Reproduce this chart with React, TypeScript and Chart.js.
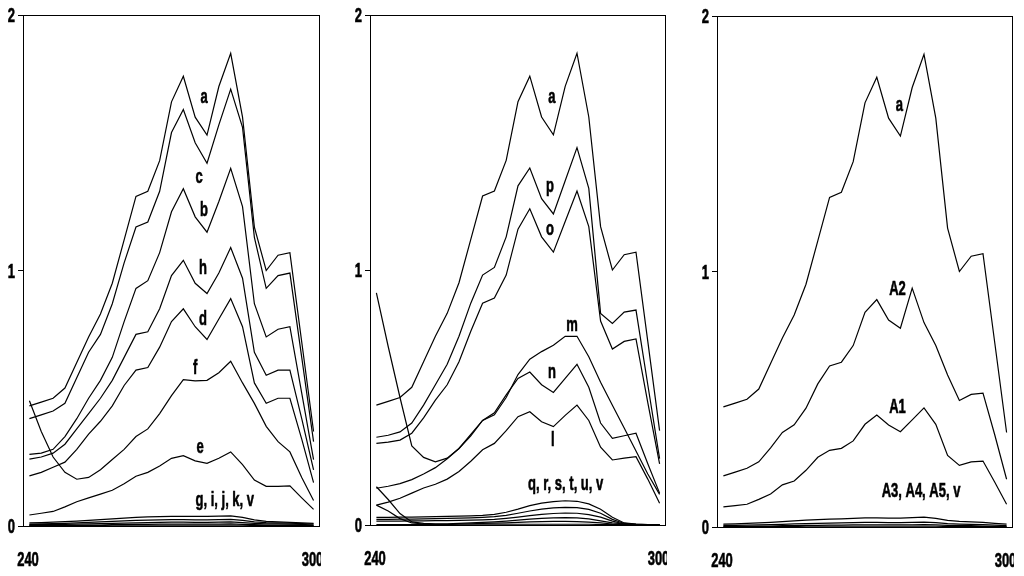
import React, { useEffect, useRef } from 'react';
import Chart from 'chart.js/auto';

// wavelength grid (nm) shared by every curve
const wavelengths = [241.3, 243.7, 246.1, 248.5, 250.9, 253.3, 255.7, 258.1, 260.5, 262.9, 265.3, 267.7, 270.1, 272.5, 274.9, 277.3, 279.7, 282.1, 284.5, 286.9, 289.3, 291.7, 294.1, 296.5, 298.9];

const xTickLabels = ['240', '300'];
const yTicks = [0, 1, 2];

// curve a appears in all three panels
const seriesA = [0.47, 0.485, 0.5, 0.54, 0.64, 0.74, 0.83, 0.95, 1.12, 1.29, 1.31, 1.43, 1.66, 1.76, 1.6, 1.53, 1.72, 1.85, 1.6, 1.17, 1.0, 1.06, 1.07, 0.72, 0.37];
const seriesV = [0.002, 0.002, 0.002, 0.002, 0.002, 0.002, 0.002, 0.003, 0.003, 0.003, 0.003, 0.003, 0.003, 0.003, 0.003, 0.003, 0.003, 0.003, 0.003, 0.002, 0.002, 0.002, 0.002, 0.002, 0.001];

// panel 1
const seriesC = [0.42, 0.435, 0.45, 0.48, 0.58, 0.68, 0.75, 0.87, 1.03, 1.17, 1.19, 1.31, 1.54, 1.63, 1.5, 1.42, 1.57, 1.71, 1.56, 1.13, 0.93, 0.98, 0.99, 0.66, 0.33];
const seriesB = [0.28, 0.285, 0.3, 0.35, 0.42, 0.5, 0.57, 0.66, 0.8, 0.93, 0.96, 1.07, 1.23, 1.32, 1.21, 1.15, 1.27, 1.4, 1.25, 0.87, 0.74, 0.77, 0.78, 0.52, 0.26];
const seriesH = [0.262, 0.27, 0.285, 0.32, 0.38, 0.44, 0.5, 0.57, 0.66, 0.75, 0.76, 0.85, 0.98, 1.04, 0.95, 0.91, 0.99, 1.09, 0.97, 0.68, 0.59, 0.61, 0.61, 0.42, 0.22];
const seriesD = [0.196, 0.21, 0.23, 0.25, 0.3, 0.36, 0.41, 0.47, 0.55, 0.61, 0.62, 0.7, 0.8, 0.85, 0.78, 0.73, 0.81, 0.89, 0.78, 0.56, 0.48, 0.5, 0.5, 0.34, 0.17];
const seriesF = [0.49, 0.37, 0.27, 0.21, 0.183, 0.19, 0.22, 0.26, 0.3, 0.35, 0.38, 0.44, 0.51, 0.573, 0.568, 0.57, 0.6, 0.645, 0.56, 0.48, 0.39, 0.33, 0.29, 0.19, 0.1];
const seriesE = [0.043, 0.05, 0.057, 0.075, 0.095, 0.11, 0.125, 0.14, 0.165, 0.195, 0.21, 0.235, 0.265, 0.275, 0.255, 0.245, 0.265, 0.29, 0.24, 0.18, 0.155, 0.155, 0.157, 0.11, 0.065];
const seriesG = [0.012, 0.013, 0.015, 0.017, 0.019, 0.022, 0.025, 0.028, 0.031, 0.034, 0.036, 0.037, 0.038, 0.038, 0.038, 0.038, 0.039, 0.04, 0.034, 0.024, 0.018, 0.016, 0.014, 0.012, 0.01];
const seriesI = [0.007, 0.008, 0.009, 0.01, 0.012, 0.014, 0.016, 0.018, 0.02, 0.022, 0.023, 0.024, 0.025, 0.025, 0.024, 0.024, 0.025, 0.026, 0.022, 0.016, 0.013, 0.012, 0.011, 0.009, 0.007];
const seriesJ = [0.005, 0.005, 0.006, 0.006, 0.007, 0.008, 0.009, 0.01, 0.011, 0.012, 0.013, 0.014, 0.015, 0.015, 0.014, 0.014, 0.015, 0.016, 0.013, 0.01, 0.008, 0.008, 0.007, 0.006, 0.004];
const seriesK = [0.002, 0.002, 0.003, 0.003, 0.003, 0.004, 0.004, 0.005, 0.005, 0.006, 0.006, 0.007, 0.007, 0.007, 0.007, 0.007, 0.007, 0.008, 0.006, 0.005, 0.004, 0.004, 0.004, 0.003, 0.002];

// panel 2
const seriesP = [0.344, 0.352, 0.365, 0.4, 0.47, 0.55, 0.63, 0.74, 0.87, 0.98, 1.01, 1.13, 1.33, 1.4, 1.28, 1.22, 1.35, 1.48, 1.32, 0.83, 0.79, 0.835, 0.843, 0.55, 0.26];
const seriesO = [0.32, 0.325, 0.333, 0.36, 0.42, 0.49, 0.55, 0.64, 0.76, 0.87, 0.89, 0.98, 1.16, 1.24, 1.13, 1.07, 1.19, 1.31, 1.17, 0.8, 0.69, 0.72, 0.73, 0.48, 0.24];
const seriesM = [0.91, 0.7, 0.5, 0.31, 0.265, 0.248, 0.262, 0.3, 0.355, 0.41, 0.432, 0.5, 0.59, 0.65, 0.68, 0.705, 0.74, 0.74, 0.66, 0.56, 0.47, 0.38, 0.29, 0.2, 0.12];
const seriesN = [0.144, 0.152, 0.162, 0.178, 0.2, 0.225, 0.26, 0.3, 0.35, 0.41, 0.44, 0.51, 0.575, 0.6, 0.55, 0.52, 0.575, 0.63, 0.54, 0.4, 0.34, 0.35, 0.36, 0.24, 0.125];
const seriesL = [0.078, 0.09, 0.105, 0.125, 0.145, 0.16, 0.18, 0.21, 0.25, 0.295, 0.32, 0.37, 0.425, 0.444, 0.405, 0.386, 0.43, 0.47, 0.41, 0.305, 0.255, 0.262, 0.268, 0.18, 0.085];
const seriesQ = [0.03, 0.03, 0.031, 0.031, 0.032, 0.033, 0.034, 0.035, 0.036, 0.038, 0.042, 0.05, 0.062, 0.076, 0.086, 0.092, 0.095, 0.093, 0.083, 0.062, 0.03, 0.008, 0.004, 0.002, 0.001];
const seriesR = [0.022, 0.022, 0.023, 0.023, 0.024, 0.025, 0.026, 0.027, 0.028, 0.03, 0.033, 0.038, 0.046, 0.055, 0.062, 0.067, 0.069, 0.068, 0.061, 0.046, 0.022, 0.006, 0.003, 0.002, 0.001];
const seriesS = [0.015, 0.015, 0.015, 0.016, 0.016, 0.017, 0.017, 0.018, 0.019, 0.02, 0.022, 0.026, 0.031, 0.037, 0.042, 0.045, 0.047, 0.046, 0.041, 0.031, 0.015, 0.004, 0.002, 0.001, 0.001];
const seriesT = [0.15, 0.1, 0.045, 0.012, 0.006, 0.005, 0.005, 0.006, 0.008, 0.01, 0.012, 0.015, 0.019, 0.023, 0.026, 0.028, 0.029, 0.028, 0.024, 0.016, 0.008, 0.004, 0.003, 0.002, 0.001];
const seriesU = [0.078, 0.055, 0.025, 0.008, 0.004, 0.003, 0.003, 0.004, 0.005, 0.006, 0.007, 0.008, 0.01, 0.012, 0.013, 0.014, 0.014, 0.013, 0.011, 0.008, 0.004, 0.002, 0.002, 0.001, 0.001];

// panel 3
const seriesA2 = [0.2, 0.215, 0.23, 0.255, 0.31, 0.37, 0.4, 0.465, 0.56, 0.63, 0.645, 0.71, 0.84, 0.89, 0.81, 0.778, 0.935, 0.8, 0.71, 0.595, 0.495, 0.519, 0.524, 0.36, 0.187];
const seriesA1 = [0.079, 0.084, 0.089, 0.108, 0.129, 0.165, 0.18, 0.222, 0.273, 0.3, 0.308, 0.337, 0.402, 0.438, 0.399, 0.373, 0.419, 0.466, 0.402, 0.28, 0.241, 0.255, 0.258, 0.175, 0.089];
const seriesA3 = [0.011, 0.012, 0.014, 0.016, 0.018, 0.021, 0.024, 0.027, 0.029, 0.031, 0.032, 0.034, 0.036, 0.036, 0.035, 0.035, 0.037, 0.039, 0.034, 0.026, 0.022, 0.02, 0.018, 0.014, 0.011];
const seriesA4 = [0.006, 0.006, 0.007, 0.008, 0.009, 0.01, 0.012, 0.013, 0.014, 0.015, 0.016, 0.017, 0.018, 0.018, 0.017, 0.017, 0.018, 0.019, 0.017, 0.013, 0.011, 0.01, 0.009, 0.007, 0.005];
const seriesA5 = [0.003, 0.003, 0.003, 0.004, 0.004, 0.005, 0.005, 0.006, 0.006, 0.007, 0.007, 0.008, 0.008, 0.008, 0.008, 0.008, 0.008, 0.009, 0.008, 0.006, 0.005, 0.005, 0.004, 0.003, 0.002];

// bold Arial-like face, squeezed sideways to look like the narrow original
const FONT = "bold 20px 'Liberation Sans', Arial, sans-serif";
const SQUEEZE = 0.65;

type CurveLabel = { text: string; x: number; y: number };
type Panel = {
  left: number;
  width: number;
  yWidth: number;
  top: number;
  bottom: number;
  series: number[][];
  labels: CurveLabel[];
};

const panels: Panel[] = [
  {
    left: 0, width: 321, yWidth: 23, top: 15, bottom: 50,
    series: [seriesV, seriesK, seriesJ, seriesI, seriesG, seriesE, seriesF, seriesD, seriesH, seriesB, seriesC, seriesA],
    labels: [
      { text: 'a', x: 276.7, y: 1.68 },
      { text: 'c', x: 275.7, y: 1.365 },
      { text: 'b', x: 276.7, y: 1.235 },
      { text: 'h', x: 276.5, y: 1.01 },
      { text: 'd', x: 276.5, y: 0.81 },
      { text: 'f', x: 274.9, y: 0.62 },
      { text: 'e', x: 275.9, y: 0.31 },
      { text: 'g, i, j, k, v', x: 280.9, y: 0.1 },
    ],
  },
  {
    left: 345, width: 322, yWidth: 25, top: 15, bottom: 51,
    series: [seriesV, seriesU, seriesT, seriesS, seriesR, seriesQ, seriesL, seriesN, seriesM, seriesO, seriesP, seriesA],
    labels: [
      { text: 'a', x: 277.0, y: 1.68 },
      { text: 'p', x: 276.6, y: 1.33 },
      { text: 'o', x: 276.6, y: 1.16 },
      { text: 'm', x: 281.1, y: 0.785 },
      { text: 'n', x: 277.0, y: 0.6 },
      { text: 'l', x: 277.2, y: 0.335 },
      { text: 'q, r, s, t, u, v', x: 279.8, y: 0.16 },
    ],
  },
  {
    left: 690, width: 324, yWidth: 27, top: 16, bottom: 49,
    series: [seriesV, seriesA5, seriesA4, seriesA3, seriesA1, seriesA2, seriesA],
    labels: [
      { text: 'a', x: 277.1, y: 1.65 },
      { text: 'A2', x: 276.7, y: 0.93 },
      { text: 'A1', x: 276.7, y: 0.47 },
      { text: 'A3, A4, A5, v', x: 281.5, y: 0.14 },
    ],
  },
];

const drawText = (ctx: CanvasRenderingContext2D, text: string, x: number, y: number, align: CanvasTextAlign) => {
  ctx.save();
  ctx.translate(x, y);
  ctx.scale(SQUEEZE, 1);
  ctx.textAlign = align;
  ctx.fillText(text, 0, 0);
  ctx.strokeText(text, 0, 0);
  ctx.restore();
};

const framePlugin = {
  id: 'frame',
  afterDraw(chart: any) {
    const { ctx, chartArea } = chart;
    ctx.save();
    ctx.strokeStyle = '#000';
    ctx.lineWidth = 1;
    ctx.strokeRect(Math.round(chartArea.left) + 0.5, Math.round(chartArea.top) + 0.5,
      Math.round(chartArea.right - chartArea.left), Math.round(chartArea.bottom - chartArea.top));
    ctx.restore();
  },
};

const makeTextPlugin = (labels: CurveLabel[]) => ({
  id: 'texts',
  afterDraw(chart: any) {
    const { ctx, scales, chartArea } = chart;
    ctx.save();
    ctx.fillStyle = '#000';
    ctx.strokeStyle = '#000';
    ctx.lineWidth = 0.6;
    ctx.font = FONT;
    ctx.textBaseline = 'alphabetic';
    // curve names
    labels.forEach((l) => {
      drawText(ctx, l.text, scales.x.getPixelForValue(l.x), scales.y.getPixelForValue(l.y) + 6, 'center');
    });
    // y tick labels
    yTicks.forEach((v) => {
      drawText(ctx, String(v), chartArea.left - 8, scales.y.getPixelForValue(v) + 7, 'right');
    });
    // x tick labels, only the two ends (the right one runs off the canvas edge)
    const yLab = chartArea.bottom + 40;
    drawText(ctx, xTickLabels[0], scales.x.getPixelForValue(240) + 5, yLab, 'center');
    drawText(ctx, xTickLabels[1], scales.x.getPixelForValue(300) - 6.5, yLab, 'center');
    ctx.restore();
  },
});

const ChartPanel = ({ panel }: { panel: Panel }) => {
  const chartRef = useRef<HTMLCanvasElement>(null);

  useEffect(() => {
    const chartInstance = new Chart(chartRef.current as HTMLCanvasElement, {
      type: 'line',
      data: {
        datasets: panel.series.map((s) => ({
          data: s.map((v, i) => ({ x: wavelengths[i], y: v })),
          borderColor: '#000',
          borderWidth: 1.2,
          pointRadius: 0,
          tension: 0,
          fill: false,
        })),
      },
      options: {
        animation: false,
        responsive: false,
        maintainAspectRatio: false,
        layout: { padding: { top: panel.top, right: 2, left: 0, bottom: 0 } },
        plugins: { legend: { display: false }, tooltip: { enabled: false } },
        scales: {
          x: {
            type: 'linear',
            min: 240,
            max: 300,
            ticks: { display: false },
            grid: { display: false },
            border: { color: '#000' },
            afterFit: (scale: any) => { scale.height = panel.bottom; },
          },
          y: {
            min: 0,
            max: 2,
            afterBuildTicks: (scale: any) => { scale.ticks = yTicks.map((v) => ({ value: v })); },
            ticks: { display: false },
            grid: { drawOnChartArea: false, tickLength: 5, color: '#000' },
            border: { color: '#000' },
            afterFit: (scale: any) => { scale.width = panel.yWidth; },
          },
        },
      } as any,
      plugins: [framePlugin, makeTextPlugin(panel.labels)],
    });

    return () => {
      chartInstance.destroy();
    };
  }, [panel]);

  return (
    <canvas
      ref={chartRef}
      width={panel.width}
      height={576}
      style={{ position: 'absolute', left: panel.left, top: 0, width: panel.width, height: 576 }}
    />
  );
};

const App = () => (
  <div style={{ position: 'fixed', left: 0, top: 0, width: 1024, height: 576, background: '#fff', overflow: 'hidden' }}>
    {panels.map((p, i) => (
      <ChartPanel key={i} panel={p} />
    ))}
  </div>
);

export default App;
